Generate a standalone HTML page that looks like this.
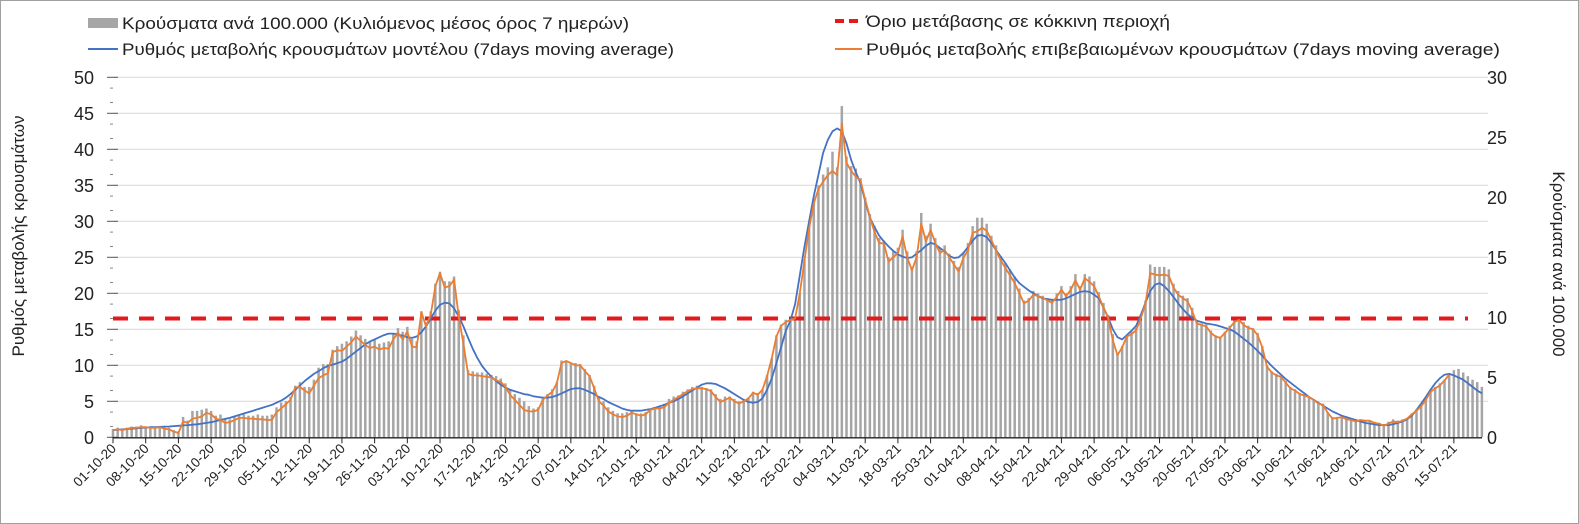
<!DOCTYPE html>
<html><head><meta charset="utf-8"><style>
html,body{margin:0;padding:0;background:#fff;}
svg{display:block;font-family:"Liberation Sans",Arial,sans-serif;}
</style></head><body>
<svg id="chart" width="1579" height="524" viewBox="0 0 1579 524" xmlns="http://www.w3.org/2000/svg">
<rect x="0.5" y="0.5" width="1578" height="523" fill="#fff" stroke="#a0a0a0" stroke-width="1"/>
<g id="grid"></g>
<g id="bars"></g>
<g id="lines"></g>
<g id="axes"></g>
<g>
  <rect x="88" y="18" width="30" height="10" fill="#a6a6a6"/>
  <text x="122" y="29" font-size="16.5" fill="#222" textLength="507" lengthAdjust="spacingAndGlyphs">Κρούσματα ανά 100.000 (Κυλιόμενος μέσος όρος 7 ημερών)</text>
  <line x1="88" y1="49" x2="118" y2="49" stroke="#4472c4" stroke-width="2"/>
  <text x="122" y="55" font-size="16.5" fill="#222" textLength="552" lengthAdjust="spacingAndGlyphs">Ρυθμός μεταβολής κρουσμάτων μοντέλου (7days moving average)</text>
  <line x1="835" y1="21" x2="862" y2="21" stroke="#e31a1c" stroke-width="4" stroke-dasharray="9,5"/>
  <text x="866" y="27" font-size="16.5" fill="#222" textLength="304" lengthAdjust="spacingAndGlyphs">Όριο μετάβασης σε κόκκινη περιοχή</text>
  <line x1="835" y1="49" x2="862" y2="49" stroke="#ed7d31" stroke-width="2"/>
  <text x="866" y="55" font-size="16.5" fill="#222" textLength="634" lengthAdjust="spacingAndGlyphs">Ρυθμός μεταβολής επιβεβαιωμένων κρουσμάτων (7days moving average)</text>
</g>
<text transform="translate(24,236) rotate(-90)" text-anchor="middle" font-size="17" fill="#222">Ρυθμός μεταβολής κρουσμάτων</text>
<text transform="translate(1553,264) rotate(90)" text-anchor="middle" font-size="17" fill="#222">Κρούσματα ανά 100.000</text>
</svg>
<script>
const leftTicks=[0,5,10,15,20,25,30,35,40,45,50];
const rightTicks=[0,5,10,15,20,25,30];
const threshold=[16.5];
const dateLabels=["01-10-20","08-10-20","15-10-20","22-10-20","29-10-20","05-11-20","12-11-20","19-11-20","26-11-20","03-12-20","10-12-20","17-12-20","24-12-20","31-12-20","07-01-21","14-01-21","21-01-21","28-01-21","04-02-21","11-02-21","18-02-21","25-02-21","04-03-21","11-03-21","18-03-21","25-03-21","01-04-21","08-04-21","15-04-21","22-04-21","29-04-21","06-05-21","13-05-21","20-05-21","27-05-21","03-06-21","10-06-21","17-06-21","24-06-21","01-07-21","08-07-21","15-07-21"];
const confirmed=[1.0,1.1,1.0,1.2,1.3,1.3,1.4,1.4,1.3,1.3,
1.4,1.2,1.1,0.8,0.6,2.2,2.0,2.6,2.7,2.9,
3.4,3.2,2.6,2.4,2.0,2.1,2.4,2.7,2.7,2.6,
2.6,2.5,2.5,2.4,2.4,3.5,4.0,4.6,5.2,6.9,
7.0,6.5,6.1,7.2,8.2,8.6,8.9,11.8,12.1,12.0,
12.6,13.2,14.0,13.4,12.8,12.4,12.6,12.2,12.4,12.3,
13.6,14.5,13.6,14.7,12.6,12.5,17.4,15.4,17.0,21.0,
22.8,20.8,21.0,21.9,16.8,13.0,8.8,8.6,8.6,8.5,
8.4,8.3,7.9,7.7,7.0,5.9,5.2,4.5,3.8,3.6,
3.6,3.8,5.2,5.8,6.3,7.5,10.3,10.6,10.3,10.0,
10.0,9.2,8.5,6.8,5.0,4.4,3.6,3.2,2.9,2.8,
3.0,3.4,3.2,3.0,3.2,3.8,4.0,4.0,4.2,4.8,
5.2,5.6,6.0,6.4,6.7,6.8,6.8,6.7,6.4,5.6,
4.9,5.2,5.5,5.0,4.7,5.0,5.4,6.2,5.9,6.6,
8.5,11.0,14.0,15.5,16.0,16.3,16.5,20.0,24.6,29.0,
32.5,34.5,35.5,36.4,37.0,36.4,43.6,38.1,37.0,36.2,
35.7,33.0,30.6,28.5,27.0,26.9,24.4,25.0,25.6,27.9,
25.0,23.2,25.0,29.7,27.2,28.8,27.0,25.6,26.0,25.0,
24.0,23.0,24.9,26.0,28.4,28.6,29.1,28.7,27.4,26.0,
24.6,23.5,22.5,21.4,20.0,18.6,19.0,19.8,19.6,19.4,
19.0,18.7,19.5,20.5,19.6,20.5,21.8,20.5,22.1,21.6,
21.0,19.6,18.0,16.6,13.5,11.4,12.5,14.0,14.3,14.9,
16.5,18.6,22.8,22.6,22.5,22.6,22.4,20.8,19.8,19.3,
18.9,17.5,15.8,15.6,15.4,14.5,14.0,13.8,14.5,15.2,
16.0,16.3,15.6,15.2,15.0,14.2,12.5,9.8,9.0,8.6,
8.4,7.6,6.8,6.5,6.0,5.8,5.6,5.2,4.7,4.5,
3.4,2.6,2.7,2.8,2.5,2.4,2.2,2.4,2.3,2.3,
2.0,1.9,1.6,1.9,2.2,2.1,2.3,2.6,3.2,3.7,
4.3,5.2,6.3,6.8,7.2,7.9,8.7];
const model=[1.0,1.05,1.1,1.15,1.2,1.25,1.3,1.35,1.4,1.42,
1.45,1.48,1.5,1.55,1.6,1.65,1.7,1.75,1.8,1.9,
2.0,2.1,2.25,2.4,2.55,2.7,2.9,3.1,3.3,3.5,
3.7,3.9,4.1,4.3,4.5,4.8,5.1,5.5,6.0,6.6,
7.2,7.8,8.3,8.8,9.2,9.6,9.9,10.1,10.3,10.5,
10.9,11.4,11.9,12.4,12.9,13.3,13.6,13.9,14.2,14.4,
14.4,14.3,14.1,13.9,13.8,14.0,14.6,15.4,16.5,17.6,
18.4,18.7,18.6,17.9,16.8,15.4,13.8,12.3,11.0,9.9,
9.1,8.4,7.8,7.3,6.9,6.6,6.4,6.2,6.0,5.9,
5.7,5.6,5.5,5.5,5.6,5.8,6.1,6.4,6.7,6.8,
6.8,6.6,6.3,6.0,5.6,5.3,4.9,4.6,4.3,4.0,
3.8,3.7,3.7,3.7,3.8,3.9,4.1,4.3,4.5,4.8,
5.0,5.3,5.7,6.1,6.5,6.9,7.3,7.5,7.5,7.4,
7.1,6.8,6.4,6.0,5.6,5.2,4.9,4.8,4.9,5.4,
6.6,8.2,10.3,12.5,14.8,16.2,18.5,22.5,26.5,30.0,
33.5,36.5,39.5,41.3,42.5,42.9,42.5,40.8,38.5,36.8,
35.3,32.8,30.5,29.2,28.0,27.2,26.5,25.9,25.4,25.1,
24.9,25.0,25.5,26.0,26.6,27.0,26.8,26.3,25.8,25.2,
24.9,25.0,25.6,26.4,27.3,28.0,28.1,27.8,27.0,26.0,
25.1,24.2,23.2,22.2,21.4,20.9,20.4,20.0,19.6,19.3,
19.2,19.1,19.1,19.1,19.3,19.6,19.9,20.2,20.3,20.2,
19.8,19.3,18.0,16.7,15.0,13.9,13.6,14.2,14.8,15.5,
17.0,18.7,20.3,21.2,21.4,21.0,20.3,19.5,18.6,17.8,
17.1,16.6,16.2,16.0,15.8,15.7,15.6,15.4,15.2,15.0,
14.7,14.2,13.7,13.2,12.6,12.0,11.3,10.6,9.9,9.3,
8.7,8.1,7.6,7.1,6.6,6.1,5.6,5.2,4.8,4.4,
4.0,3.6,3.3,3.0,2.8,2.6,2.4,2.2,2.0,1.9,
1.8,1.7,1.7,1.7,1.8,2.0,2.2,2.5,3.0,3.8,
4.7,5.6,6.6,7.5,8.2,8.7,8.8,8.6,8.3,8.0,
7.5,7.0,6.5,6.1];
const cases=[0.7,0.8,0.7,0.8,0.9,0.9,1.0,0.9,0.9,0.9,
0.9,0.8,0.8,0.6,0.5,1.7,1.4,2.2,2.2,2.3,
2.4,2.2,1.8,1.9,1.5,1.5,1.7,1.8,1.9,1.8,
1.8,1.9,1.8,1.8,1.9,2.5,2.9,3.0,3.4,4.3,
4.6,4.2,4.2,4.8,5.8,6.1,6.1,7.3,7.6,7.8,
8.0,8.4,8.9,8.5,8.2,8.0,8.1,7.8,7.9,8.0,
8.6,9.1,8.8,9.2,8.2,8.0,10.5,9.6,10.5,12.8,
13.8,13.0,13.0,13.4,10.6,8.5,5.6,5.5,5.4,5.4,
5.3,5.2,5.1,4.9,4.5,4.0,3.6,3.3,3.0,2.6,
2.4,2.5,3.2,3.6,4.0,4.6,6.4,6.4,6.2,6.2,
6.1,5.7,5.2,4.3,3.4,3.0,2.5,2.2,2.0,2.0,
2.1,2.2,2.0,2.0,2.1,2.4,2.5,2.6,2.8,3.2,
3.4,3.5,3.8,4.0,4.2,4.3,4.2,4.1,4.0,3.6,
3.2,3.4,3.4,3.2,3.0,3.2,3.3,3.8,3.7,4.0,
5.2,6.6,8.5,9.4,9.8,9.9,10.0,12.0,14.8,17.6,
19.7,21.0,21.9,22.5,23.8,22.5,27.6,23.4,22.6,22.4,
21.6,20.0,18.6,17.6,16.6,16.4,15.0,15.5,15.8,17.3,
15.5,14.2,15.5,18.7,16.8,17.8,16.6,15.8,16.0,15.3,
14.7,14.2,15.4,16.2,17.6,18.3,18.3,17.8,16.8,16.0,
15.1,14.5,14.0,13.4,12.4,11.4,11.6,12.2,12.0,11.8,
11.6,11.4,12.0,12.6,12.0,12.6,13.6,12.6,13.6,13.4,
13.0,12.1,11.2,10.2,8.6,7.0,7.6,8.5,8.8,9.1,
10.2,11.4,14.4,14.2,14.2,14.2,14.0,12.8,12.2,11.8,
11.6,10.8,9.7,9.5,9.4,8.9,8.5,8.4,8.8,9.3,
9.8,10.0,9.6,9.3,9.1,8.7,7.6,6.0,5.5,5.3,
5.1,4.7,4.2,4.0,3.7,3.6,3.4,3.2,2.9,2.8,
2.1,1.7,1.7,1.7,1.6,1.5,1.4,1.5,1.4,1.4,
1.3,1.2,1.1,1.3,1.5,1.4,1.5,1.6,2.0,2.3,
2.7,3.2,3.8,4.2,4.5,4.8,5.3,5.6,5.7,5.4,
5.1,4.8,4.6,4.2];

const NS="http://www.w3.org/2000/svg";
const X0=113, DX=4.672, Y0=437.3, PL=7.2, PR=12;
const PLOT_R=1488;
function xDay(d){return X0+d*DX;}
function yL(v){return Y0-v*PL;}
function yR(v){return Y0-v*PR;}
function mk(tag,attrs,parent){const e=document.createElementNS(NS,tag);for(const k in attrs)e.setAttribute(k,attrs[k]);parent.appendChild(e);return e;}
const grid=document.getElementById('grid'),barsG=document.getElementById('bars'),linesG=document.getElementById('lines'),axes=document.getElementById('axes');

leftTicks.forEach(function(t){
  if(t>0){const g=mk('line',{x1:X0,x2:PLOT_R,y1:yL(t),y2:yL(t),stroke:'#d9d9d9','stroke-width':1},grid);
  
  }
  const tk=mk('line',{x1:107,x2:118,y1:yL(t),y2:yL(t),stroke:'#555','stroke-width':1},axes);
  
  
  const lb=mk('text',{x:94,y:yL(t)+6.5,'text-anchor':'end','font-size':18,fill:'#222'},axes);
  lb.textContent=t;
  
  
  if(t<50){[1.5,3.5].forEach(function(f){const m=mk('line',{x1:110,x2:113,y1:yL(t+f),y2:yL(t+f),stroke:'#888','stroke-width':1},axes);
    
    });}
});
rightTicks.forEach(function(t){
  const lb=mk('text',{x:1487,y:yR(t)+6.5,'font-size':18,fill:'#222'},axes);
  lb.textContent=t;
  
  
});
cases.forEach(function(v,i){
  const b=mk('rect',{x:xDay(i)-1.25,y:yR(v),width:2.5,height:Y0-yR(v),fill:'#a5a5a5'},barsG);
  
  
});
const thr=mk('line',{x1:X0,x2:1468,y1:yL(threshold[0]),y2:yL(threshold[0]),stroke:'#e31a1c','stroke-width':4,'stroke-dasharray':'15,11'},linesG);


function path(arr){return arr.map(function(v,i){return (i?'L':'M')+xDay(i).toFixed(1)+' '+yL(v).toFixed(1);}).join(' ');}
const pm=mk('path',{d:path(model),fill:'none',stroke:'#4472c4','stroke-width':1.8,'stroke-linejoin':'round'},linesG);


const pc=mk('path',{d:path(confirmed),fill:'none',stroke:'#ed7d31','stroke-width':1.8,'stroke-linejoin':'round'},linesG);


const ax=mk('line',{x1:X0,x2:1482,y1:Y0+0.5,y2:Y0+0.5,stroke:'#222','stroke-width':1.3},axes);


dateLabels.forEach(function(s,i){
  const x=xDay(i*7);
  const tk=mk('line',{x1:x,x2:x,y1:Y0,y2:Y0+6,stroke:'#222','stroke-width':1},axes);
  
  
  const t=mk('text',{transform:'translate('+(x+4)+','+(Y0+12)+') rotate(-45)','text-anchor':'end','font-size':13.5,fill:'#222'},axes);
  t.textContent=s;
  
  
});
</script>
</body></html>
